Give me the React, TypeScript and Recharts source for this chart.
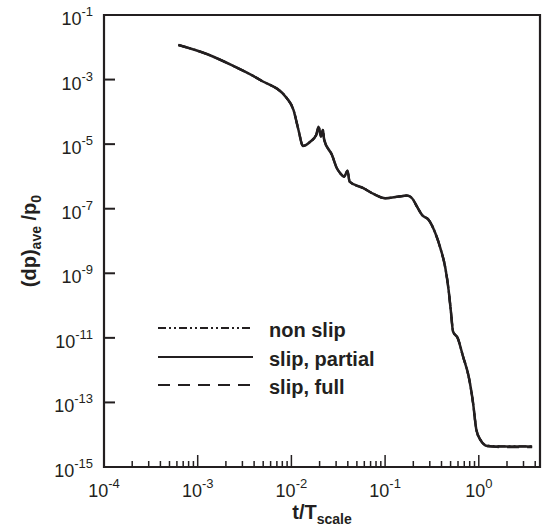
import React from 'react';
import { LineChart, Line, XAxis, YAxis, ReferenceArea, Legend } from 'recharts';

// time t/T_scale
const tValues = [
  6.22e-4, 1.25e-3, 2.4e-3, 4.65e-3, 8.95e-3, 1.052e-2, 1.19e-2, 1.327e-2, 1.589e-2,
  1.84e-2, 1.95e-2, 2.065e-2, 2.17e-2, 2.24e-2, 2.71e-2, 3.06e-2, 3.32e-2, 3.66e-2,
  3.97e-2, 4.18e-2, 5.89e-2, 7.53e-2, 0.1005, 0.139, 0.171, 0.194, 0.219, 0.248,
  0.292, 0.344, 0.389, 0.44, 0.476, 0.506, 0.531, 0.596, 0.679, 0.78, 0.869, 0.942,
  1.04, 1.23, 1.7, 3.71,
];

const nonSlip = [
  1.18e-2, 6.2e-3, 2.64e-3, 9.7e-4, 2.64e-4, 1.15e-4, 2.75e-5, 8.8e-6, 1.19e-5,
  1.93e-5, 3.48e-5, 1.71e-5, 2.75e-5, 1.35e-5, 4.63e-6, 1.79e-6, 1.26e-6, 9.9e-7,
  1.51e-6, 6.9e-7, 4.3e-7, 2.87e-7, 2.11e-7, 2.37e-7, 2.55e-7, 2.11e-7, 1.16e-7, 6.4e-8,
  4.5e-8, 1.74e-8, 6.0e-9, 1.44e-9, 3.06e-10, 5.8e-11, 1.57e-11, 9.8e-12, 2.64e-12, 6.3e-13,
  9.5e-14, 1.42e-14, 6.95e-15, 4.6e-15, 4.4e-15, 4.4e-15,
];

const slipPartial = [
  1.18e-2, 6.2e-3, 2.64e-3, 9.7e-4, 2.64e-4, 1.15e-4, 2.75e-5, 8.8e-6, 1.19e-5,
  1.93e-5, 3.48e-5, 1.71e-5, 2.75e-5, 1.35e-5, 4.63e-6, 1.79e-6, 1.26e-6, 9.9e-7,
  1.51e-6, 6.9e-7, 4.3e-7, 2.87e-7, 2.11e-7, 2.37e-7, 2.55e-7, 2.11e-7, 1.16e-7, 6.4e-8,
  4.5e-8, 1.74e-8, 6.0e-9, 1.44e-9, 3.06e-10, 5.8e-11, 1.57e-11, 9.8e-12, 2.64e-12, 6.3e-13,
  9.5e-14, 1.42e-14, 6.95e-15, 4.5e-15, 4.3e-15, 4.3e-15,
];

const slipFull = [
  1.18e-2, 6.2e-3, 2.64e-3, 9.7e-4, 2.64e-4, 1.15e-4, 2.75e-5, 8.8e-6, 1.19e-5,
  1.93e-5, 3.48e-5, 1.71e-5, 2.75e-5, 1.35e-5, 4.63e-6, 1.79e-6, 1.26e-6, 9.9e-7,
  1.51e-6, 6.9e-7, 4.3e-7, 2.87e-7, 2.11e-7, 2.37e-7, 2.55e-7, 2.11e-7, 1.16e-7, 6.4e-8,
  4.5e-8, 1.74e-8, 6.0e-9, 1.44e-9, 3.06e-10, 5.8e-11, 1.57e-11, 9.8e-12, 2.64e-12, 6.3e-13,
  9.5e-14, 1.42e-14, 6.95e-15, 4.4e-15, 4.15e-15, 4.15e-15,
];

const xMajorTicks = [1e-4, 1e-3, 1e-2, 1e-1, 1];
const xMinorMultipliers = [2, 3, 4, 5, 6, 7, 8, 9];
const xDomain = [1e-4, 4.5];
const yTicks = [1e-1, 1e-3, 1e-5, 1e-7, 1e-9, 1e-11, 1e-13, 1e-15];
const yDomain = [1e-15, 1e-1];

const seriesNames = ['non slip', 'slip, partial', 'slip, full'];
const seriesDash = ['8 3 2 3 2 3', '', '12 8'];

const FONT = '"Liberation Sans", Arial, Helvetica, sans-serif';
const INK = '#231f20';

const data = tValues.map((t, i) => ({
  t,
  nonSlip: nonSlip[i],
  slipPartial: slipPartial[i],
  slipFull: slipFull[i],
}));

const xTicks: number[] = [];
xMajorTicks.forEach((m) => {
  xTicks.push(m);
  xMinorMultipliers.forEach((k) => {
    const v = k * m;
    if (v < xDomain[1]) xTicks.push(v);
  });
});

const isMajor = (v: number) => {
  const l = Math.log10(v);
  return Math.abs(l - Math.round(l)) < 1e-6;
};

const XTick = (props: any) => {
  const { x, y, payload } = props;
  const v = payload.value;
  const major = isMajor(v);
  const e = Math.round(Math.log10(v));
  return (
    <g>
      <line x1={x} x2={x} y1={y} y2={y - (major ? 12 : 6)} stroke={INK} strokeWidth={1.5} />
      {major && (
        <text x={x} y={y + 30} textAnchor="middle" fontFamily={FONT} fontSize={18} fill={INK}>
          10
          <tspan dy={-9} fontSize={13}>{String(e)}</tspan>
        </text>
      )}
    </g>
  );
};

const YTick = (props: any) => {
  const { x, y, payload } = props;
  const v = payload.value;
  const e = Math.round(Math.log10(v));
  return (
    <g>
      <line x1={x} x2={x + 11} y1={y} y2={y} stroke={INK} strokeWidth={2} />
      <text x={x - 11} y={y + 10} textAnchor="end" fontFamily={FONT} fontSize={18} fill={INK}>
        10
        <tspan dy={-9} fontSize={13}>{String(e)}</tspan>
      </text>
    </g>
  );
};

const XTitle = (props: any) => {
  const vb = props.viewBox || { x: 104, y: 467, width: 436, height: 63 };
  return (
    <text x={vb.x + vb.width / 2} y={vb.y + 52} textAnchor="middle" fontFamily={FONT} fontWeight="bold" fontSize={20} fill={INK}>
      t/T
      <tspan dy={5} fontSize={14}>scale</tspan>
    </text>
  );
};

const YTitle = (props: any) => {
  const vb = props.viewBox || { x: 0, y: 15, width: 104, height: 452 };
  const cx = 36;
  const cy = vb.y + vb.height / 2;
  return (
    <text x={cx} y={cy} transform={`rotate(-90 ${cx} ${cy})`} textAnchor="middle" fontFamily={FONT} fontWeight="bold" fontSize={20} fill={INK}>
      (dp)
      <tspan dy={5} fontSize={14}>ave</tspan>
      <tspan dy={-5}> /p</tspan>
      <tspan dy={5} fontSize={14}>0</tspan>
    </text>
  );
};

const renderLegend = () => (
  <div style={{ fontFamily: FONT, fontWeight: 'bold', fontSize: 20, color: INK }}>
    {seriesNames.map((name, i) => (
      <div key={name} style={{ display: 'flex', alignItems: 'center', height: 28.5 }}>
        <svg width={95} height={4} style={{ display: 'block' }}>
          <line x1={0} x2={95} y1={2} y2={2} stroke={INK} strokeWidth={2} strokeDasharray={seriesDash[i] || undefined} />
        </svg>
        <span style={{ marginLeft: 16, lineHeight: '20px', whiteSpace: 'nowrap', position: 'relative', top: 2 }}>{name}</span>
      </div>
    ))}
  </div>
);

export default function App() {
  return (
    <div style={{ position: 'absolute', left: 0, top: 0, width: 544, height: 530, background: '#fff' }}>
      <LineChart width={544} height={530} data={data} margin={{ top: 15, right: 4, bottom: 0, left: 0 }}>
        <XAxis
          dataKey="t"
          type="number"
          scale="log"
          domain={xDomain}
          allowDataOverflow
          ticks={xTicks}
          interval={0}
          tick={<XTick />}
          tickLine={false}
          tickSize={0}
          tickMargin={0}
          axisLine={false}
          height={63}
          label={{ content: <XTitle /> }}
        />
        <YAxis
          type="number"
          scale="log"
          domain={yDomain}
          allowDataOverflow
          ticks={yTicks}
          interval={0}
          tick={<YTick />}
          tickLine={false}
          tickSize={0}
          tickMargin={0}
          axisLine={false}
          width={104}
          label={{ content: <YTitle /> }}
        />
        <ReferenceArea
          x1={xDomain[0]}
          x2={xDomain[1]}
          y1={yDomain[0]}
          y2={yDomain[1]}
          fill="none"
          fillOpacity={0}
          stroke={INK}
          strokeWidth={2.2}
          ifOverflow="visible"
        />
        <Line dataKey="nonSlip" name={seriesNames[0]} type="monotone" stroke={INK} strokeWidth={2.2} strokeDasharray={seriesDash[0]} dot={false} isAnimationActive={false} />
        <Line dataKey="slipPartial" name={seriesNames[1]} type="monotone" stroke={INK} strokeWidth={2.5} dot={false} isAnimationActive={false} />
        <Line dataKey="slipFull" name={seriesNames[2]} type="monotone" stroke={INK} strokeWidth={2.2} strokeDasharray={seriesDash[2]} dot={false} isAnimationActive={false} />
        <Legend
          layout="vertical"
          align="center"
          verticalAlign="middle"
          content={renderLegend}
          wrapperStyle={{ left: 158, top: 314, width: 260, height: 'auto' }}
        />
      </LineChart>
    </div>
  );
}
